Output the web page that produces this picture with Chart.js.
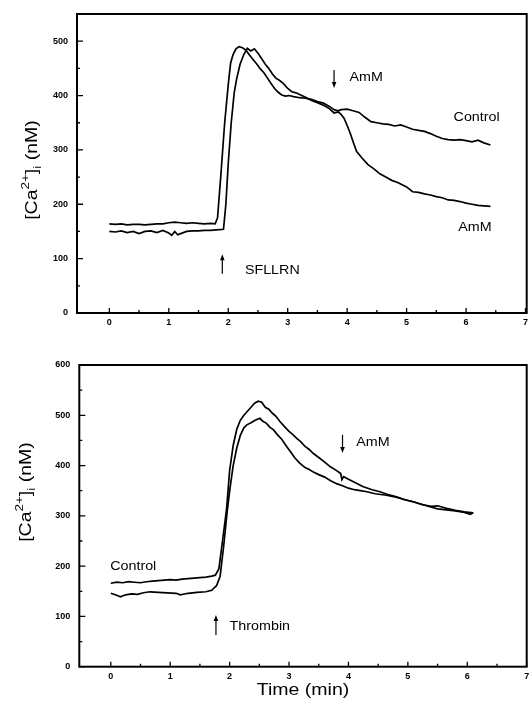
<!DOCTYPE html>
<html>
<head>
<meta charset="utf-8">
<script src="https://cdn.jsdelivr.net/npm/chart.js@4"></script>
<style>
  body { margin: 0; background: #fff; }
  #wrap { position: relative; width: 529px; height: 713px; }
  .box { position: absolute; left: 0; }
</style>
</head>
<body>
<div id="wrap">
  <div class="box" style="top:0"><canvas id="topChart" width="529" height="340"></canvas></div>
  <div class="box" style="top:340px"><canvas id="bottomChart" width="529" height="373"></canvas></div>
</div>
<script>
// [time (min), Ca (nM)]
const topControl = [[0,164],[0.1,163],[0.2,164],[0.3,162],[0.4,163],[0.5,163],[0.6,162],[0.7,163],[0.8,164],[0.9,164],
  [1.0,166],[1.1,167],[1.2,166],[1.3,165],[1.4,166],[1.5,165],[1.6,164],[1.7,165],[1.78,164],[1.82,175],[1.88,260],[1.94,350],
  [2.0,420],[2.04,460],[2.08,475],[2.13,486],[2.18,490],[2.24,488],[2.3,483],[2.36,474],[2.42,466],[2.48,458],[2.54,449],
  [2.6,442],[2.66,432],[2.72,422],[2.78,413],[2.84,406],[2.9,401],[2.96,399],[3.02,400],[3.1,398],[3.2,396],[3.3,395],
  [3.4,393],[3.5,389],[3.6,386],[3.7,380],[3.78,374],[3.85,372],[3.9,374],[4.0,375],[4.1,372],[4.2,369],[4.3,360],[4.4,352],
  [4.5,350],[4.6,348],[4.7,347],[4.8,344],[4.9,346],[5.0,342],[5.1,338],[5.2,336],[5.3,334],[5.4,330],[5.5,325],[5.6,321],
  [5.7,319],[5.8,318],[5.9,319],[6.0,317],[6.1,315],[6.2,318],[6.3,313],[6.41,309]];
const topAmM = [[0,150],[0.1,149],[0.2,151],[0.3,148],[0.4,150],[0.5,146],[0.6,150],[0.7,151],[0.8,148],[0.9,152],[1.0,147],
  [1.05,143],[1.1,150],[1.15,144],[1.2,146],[1.3,150],[1.4,151],[1.5,151],[1.6,152],[1.7,152],[1.8,153],[1.92,154],[1.96,200],
  [2.0,275],[2.05,350],[2.1,405],[2.14,430],[2.2,458],[2.26,475],[2.32,487],[2.38,482],[2.44,486],[2.5,478],[2.56,468],
  [2.62,458],[2.68,450],[2.74,440],[2.8,432],[2.86,428],[2.93,422],[3.0,413],[3.07,407],[3.14,405],[3.2,402],[3.3,397],
  [3.4,391],[3.5,387],[3.6,382],[3.7,376],[3.78,368],[3.85,370],[3.9,365],[3.95,358],[4.0,345],[4.05,331],[4.1,315],
  [4.16,297],[4.25,285],[4.35,273],[4.45,265],[4.55,256],[4.65,250],[4.75,244],[4.85,240],[5.0,232],[5.1,223],[5.2,222],
  [5.3,219],[5.4,217],[5.5,214],[5.6,212],[5.7,208],[5.8,207],[5.9,205],[6.0,202],[6.1,200],[6.2,198],[6.3,197],[6.41,196]];
const bottomControl = [[0,166],[0.1,168],[0.2,167],[0.3,169],[0.4,168],[0.5,167],[0.6,169],[0.7,170],[0.8,171],[0.9,172],
  [1.0,173],[1.1,172],[1.2,174],[1.3,175],[1.4,176],[1.5,177],[1.6,178],[1.7,180],[1.76,182],[1.82,195],[1.88,250],[1.95,315],
  [2.0,390],[2.06,440],[2.12,472],[2.18,490],[2.24,500],[2.3,508],[2.36,516],[2.42,524],[2.48,528],[2.54,526],[2.6,516],
  [2.66,512],[2.72,504],[2.78,498],[2.85,487],[2.92,478],[3.0,468],[3.06,462],[3.13,454],[3.2,447],[3.27,438],[3.34,432],
  [3.41,424],[3.5,416],[3.6,407],[3.69,398],[3.8,390],[3.87,384],[3.89,372],[3.92,378],[4.0,373],[4.1,367],[4.25,358],
  [4.4,352],[4.53,348],[4.65,343],[4.81,338],[4.95,332],[5.09,328],[5.2,324],[5.37,318],[5.5,314],[5.65,312],[5.8,310],
  [5.95,307],[6.05,303],[6.1,306]];
const bottomAmM = [[0,146],[0.1,142],[0.16,139],[0.25,143],[0.35,145],[0.45,144],[0.55,147],[0.66,149],[0.8,148],[0.95,147],
  [1.1,146],[1.17,143],[1.3,146],[1.45,148],[1.6,149],[1.7,152],[1.74,157],[1.78,161],[1.84,180],[1.9,240],[1.96,310],
  [2.01,358],[2.06,400],[2.12,435],[2.18,460],[2.24,475],[2.29,481],[2.36,485],[2.43,490],[2.51,494],[2.56,488],[2.62,484],
  [2.68,476],[2.74,471],[2.8,462],[2.88,452],[2.96,438],[3.04,425],[3.1,415],[3.18,405],[3.27,396],[3.34,392],[3.41,387],
  [3.5,382],[3.6,377],[3.7,370],[3.8,364],[3.9,360],[4.0,355],[4.1,352],[4.2,350],[4.31,348],[4.45,344],[4.64,341],
  [4.8,337],[4.95,332],[5.09,328],[5.25,322],[5.4,319],[5.5,320],[5.65,315],[5.8,311],[5.95,308],[6.1,306]];

const xTickValues = [0, 1, 2, 3, 4, 5, 6, 7];
const xMinorValues = [0.5, 1.5, 2.5, 3.5, 4.5, 5.5, 6.5];
const topYTicks = [0, 100, 200, 300, 400, 500];
const topYMinor = [50, 150, 250, 350, 450];
const bottomYTicks = [0, 100, 200, 300, 400, 500, 600];
const bottomYMinor = [50, 150, 250, 350, 450, 550];

const FONT = '"Liberation Sans", Arial, sans-serif';

function drawNote(ctx, x, y, text) {
  ctx.save();
  ctx.translate(x, y);
  ctx.scale(1.1, 1);
  ctx.font = '13px ' + FONT;
  ctx.textAlign = 'left';
  ctx.textBaseline = 'middle';
  ctx.fillText(text, 0, 0);
  ctx.restore();
}

function drawArrow(ctx, x, yTail, yHead) {
  const dir = yHead > yTail ? 1 : -1;
  ctx.lineWidth = 1.2;
  ctx.beginPath();
  ctx.moveTo(x, yTail);
  ctx.lineTo(x, yHead - dir * 4);
  ctx.stroke();
  ctx.beginPath();
  ctx.moveTo(x, yHead);
  ctx.lineTo(x - 2.3, yHead - dir * 6);
  ctx.lineTo(x + 2.3, yHead - dir * 6);
  ctx.closePath();
  ctx.fill();
}

function drawYTitle(ctx, baseX, centerY) {
  const big = '16px ' + FONT, small = '11px ' + FONT;
  const parts = [['[Ca', big, 0], ['2+', small, -8], [']', big, 0], ['i', small, 4], [' (nM)', big, 0]];
  ctx.save();
  ctx.translate(baseX, centerY);
  ctx.rotate(-Math.PI / 2);
  ctx.scale(1.22, 1);
  ctx.textAlign = 'left';
  ctx.textBaseline = 'alphabetic';
  let w = 0;
  parts.forEach(p => { ctx.font = p[1]; w += ctx.measureText(p[0]).width; });
  let cx = -w / 2;
  parts.forEach(p => {
    ctx.font = p[1];
    ctx.fillText(p[0], cx, p[2]);
    cx += ctx.measureText(p[0]).width;
  });
  ctx.restore();
}

// frame, inward ticks, titles and notes
const decor = {
  id: 'decor',
  afterDraw(chart, args, o) {
    const { ctx, chartArea: a, scales: { x, y } } = chart;
    ctx.save();
    ctx.strokeStyle = '#000';
    ctx.fillStyle = '#000';
    ctx.lineWidth = 2;
    ctx.strokeRect(a.left, a.top, a.right - a.left, a.bottom - a.top);
    ctx.lineWidth = 1.3;
    ctx.beginPath();
    xTickValues.forEach(v => { const px = x.getPixelForValue(v); ctx.moveTo(px, a.bottom); ctx.lineTo(px, a.bottom - 5); });
    xMinorValues.forEach(v => { const px = x.getPixelForValue(v); ctx.moveTo(px, a.bottom); ctx.lineTo(px, a.bottom - 3); });
    o.yMajor.forEach(v => { const py = y.getPixelForValue(v); ctx.moveTo(a.left, py); ctx.lineTo(a.left + 6, py); });
    o.yMinor.forEach(v => { const py = y.getPixelForValue(v); ctx.moveTo(a.left, py); ctx.lineTo(a.left + 3, py); });
    ctx.stroke();

    drawYTitle(ctx, o.yTitleX, o.yTitleY);
    if (o.xTitle) {
      ctx.save();
      ctx.translate((a.left + a.right) / 2, o.xTitleY);
      ctx.scale(1.22, 1);
      ctx.font = '16px ' + FONT;
      ctx.textAlign = 'center';
      ctx.textBaseline = 'alphabetic';
      ctx.fillText(o.xTitle, 0, 0);
      ctx.restore();
    }
    o.arrows.forEach(ar => drawArrow(ctx, x.getPixelForValue(ar[0]), y.getPixelForValue(ar[1]), y.getPixelForValue(ar[2])));
    o.notes.forEach(n => drawNote(ctx, x.getPixelForValue(n[1]), y.getPixelForValue(n[2]), n[0]));
    ctx.restore();
  }
};

function makeChart(id, series, xMin, xMax, yMax, yTicks, yAxisWidth, xAxisHeight, padTop, deco) {
  return new Chart(document.getElementById(id), {
    type: 'line',
    data: {
      datasets: series.map(s => ({
        data: s.map(([t, v]) => ({ x: t, y: v })),
        borderColor: '#000',
        borderWidth: 1.7,
        pointRadius: 0,
        tension: 0,
        fill: false
      }))
    },
    options: {
      responsive: false,
      animation: false,
      layout: { padding: { top: padTop, right: 2.3, left: 0, bottom: 0 } },
      plugins: { legend: { display: false }, tooltip: { enabled: false }, decor: deco },
      scales: {
        x: {
          type: 'linear', min: xMin, max: xMax,
          grid: { display: false, drawTicks: false }, border: { display: false },
          afterBuildTicks: s => { s.ticks = xTickValues.map(v => ({ value: v })); },
          afterFit: s => { s.height = xAxisHeight; s.paddingLeft = 0; s.paddingRight = 0; },
          ticks: { autoSkip: false, maxRotation: 0, padding: 4, color: '#000',
                   font: { family: FONT, size: 9, weight: 'bold' } }
        },
        y: {
          type: 'linear', min: 0, max: yMax,
          grid: { display: false, drawTicks: false }, border: { display: false },
          afterBuildTicks: s => { s.ticks = yTicks.map(v => ({ value: v })); },
          afterFit: s => { s.width = yAxisWidth; s.paddingTop = 0; s.paddingBottom = 0; },
          ticks: { autoSkip: false, padding: 9, color: '#000',
                   font: { family: FONT, size: 9, weight: 'bold' } }
        }
      }
    },
    plugins: [decor]
  });
}

makeChart('topChart', [topControl, topAmM], -0.544, 7.02, 550, topYTicks, 77, 27, 14, {
  yMajor: topYTicks, yMinor: topYMinor, yTitleX: 37, yTitleY: 170,
  arrows: [[1.9, 72, 108], [3.78, 447, 414]],
  notes: [['SFLLRN', 2.28, 79], ['AmM', 4.04, 434], ['Control', 5.79, 359], ['AmM', 5.87, 158]]
});

makeChart('bottomChart', [bottomControl, bottomAmM], -0.53, 7.0, 600, bottomYTicks, 79.3, 46.3, 25, {
  yMajor: bottomYTicks, yMinor: bottomYMinor, yTitleX: 31, yTitleY: 152,
  xTitle: 'Time (min)', xTitleY: 354.5,
  arrows: [[1.77, 63, 103], [3.9, 461, 425]],
  notes: [['Thrombin', 2.0, 81], ['AmM', 4.13, 447], ['Control', -0.01, 200]]
});
</script>
</body>
</html>
